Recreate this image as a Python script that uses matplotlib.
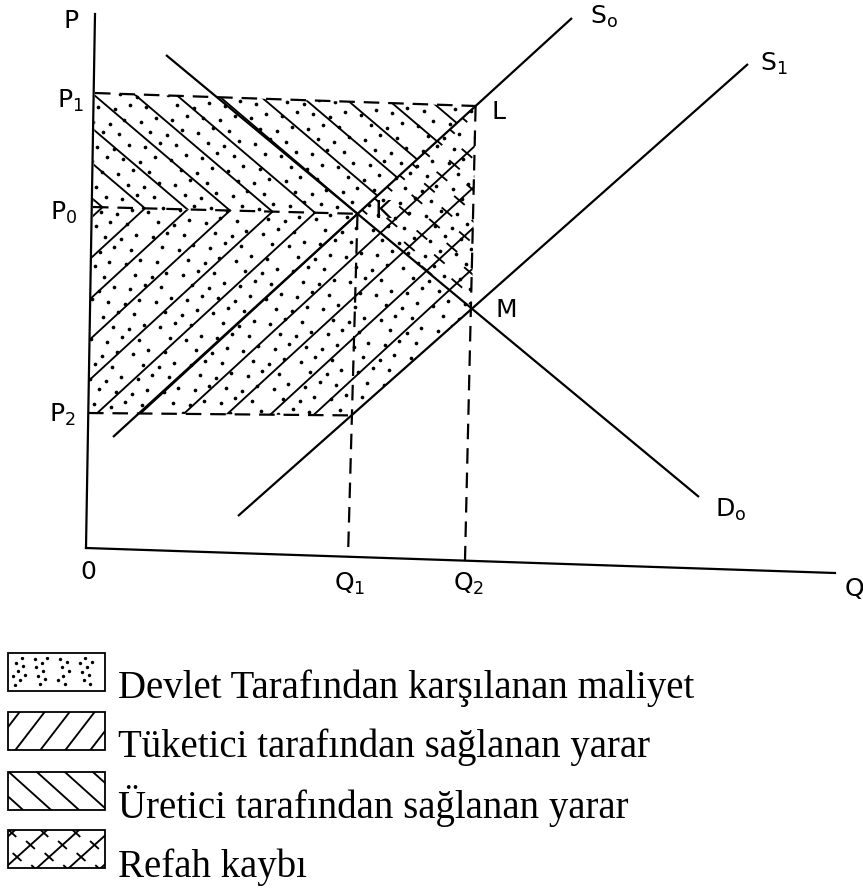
import numpy as np
import matplotlib.pyplot as plt
from matplotlib.patches import Polygon, Rectangle

W, H = 863, 890

# page layout of the diagram (pixel units, y grows downward)
origin = (86, 548)
p_axis_top = (95, 14)
q_axis_end = (835, 573)

# supply and demand curves, given by their drawn end points
s0_ends = [(113, 437), (572, 18)]
s1_ends = [(238, 516), (748, 64)]
d0_ends = [(166, 55), (699, 497)]

# where the price lines leave the P axis
p1_start = (95, 93)
p0_start = (93, 207)
p2_start = (88, 413)
p1_level = 106

# feet of the quantity lines on the Q axis
q1_foot = (348, 557)
q2_foot = (465, 560)

axis_labels = ["P", "0", "Q"]
curve_labels = ["S_o", "S_1", "D_o"]
legend_labels = [
    "Devlet Tarafından karşılanan maliyet",
    "Tüketici tarafından sağlanan yarar",
    "Üretici tarafından sağlanan yarar",
    "Refah kaybı",
]

LW = 1.6
HATCH_LW = 1.35
DASH = (0, (7, 4))


def line_y(ends, x):
    (x0, y0), (x1, y1) = ends
    return y0 + (y1 - y0) * (x - x0) / (x1 - x0)


def line_x(ends, y):
    (x0, y0), (x1, y1) = ends
    return x0 + (x1 - x0) * (y - y0) / (y1 - y0)


def intersect(a, b):
    (ax0, ay0), (ax1, ay1) = a
    (bx0, by0), (bx1, by1) = b
    ma = (ay1 - ay0) / (ax1 - ax0)
    mb = (by1 - by0) / (bx1 - bx0)
    x = (by0 - ay0 + ma * ax0 - mb * bx0) / (ma - mb)
    return (x, ay0 + ma * (x - ax0))


point_k = intersect(s0_ends, d0_ends)
point_m = intersect(s1_ends, d0_ends)
point_l = (line_x(s0_ends, p1_level), p1_level)
point_s1_q1 = (point_k[0] - 6, line_y(s1_ends, point_k[0] - 6))


def clip_poly(ax, pts):
    return Polygon(pts, closed=True, transform=ax.transData)


def hatch_family(ax, anchors, slope, clip, lw=HATCH_LW, reach=400):
    for xa, ya in anchors:
        xs = np.array([xa - reach, xa + reach])
        ys = ya + slope * (xs - xa)
        ln, = ax.plot(xs, ys, color="black", lw=lw, solid_capstyle="butt")
        ln.set_clip_path(clip)


def tick_marks(ax, anchors, slope, tick_slope, clip, step=17, size=6):
    d = np.array([1.0, slope]) / np.hypot(1.0, slope)
    t = np.array([1.0, tick_slope]) / np.hypot(1.0, tick_slope)
    for xa, ya in anchors:
        for s in np.arange(-300, 300, step):
            cx, cy = xa + d[0] * s, ya + d[1] * s
            ln, = ax.plot([cx - t[0] * size, cx + t[0] * size],
                          [cy - t[1] * size, cy + t[1] * size],
                          color="black", lw=HATCH_LW)
            ln.set_clip_path(clip)


def stipple(ax, pts, per_dot, size=7):
    # even but irregular dot fill (R2 low-discrepancy sequence)
    pts = np.asarray(pts, dtype=float)
    x0, y0 = pts.min(axis=0)
    x1, y1 = pts.max(axis=0)
    n = int((x1 - x0) * (y1 - y0) / per_dot)
    g = 1.32471795724
    idx = np.arange(1, n + 1)
    u = (0.5 + idx / g) % 1.0
    v = (0.5 + idx / g ** 2) % 1.0
    sc = ax.scatter(x0 + u * (x1 - x0), y0 + v * (y1 - y0), s=size,
                    color="black", linewidths=0)
    sc.set_clip_path(clip_poly(ax, pts))


fig = plt.figure(figsize=(W / 100, H / 100), dpi=100)
ax = fig.add_axes([0, 0, 1, 1])
ax.set_xlim(0, W)
ax.set_ylim(H, 0)
ax.axis("off")

# shaded areas
stipple_pts = [p1_start, point_l, point_m, point_s1_q1, p2_start]
producer_pts = [p1_start, point_l, point_k, p0_start]
consumer_pts = [p0_start, point_k, point_l, point_m, point_s1_q1, p2_start]
loss_pts = [point_k, point_l, point_m]

stipple(ax, stipple_pts, 230)

back_slope = 0.85
fwd_slope = -0.92
spacing = 42.5
p0_ends = [p0_start, point_k]
anchor_x = point_k[0] - spacing * np.arange(-6, 9)
anchors = [(x, line_y(p0_ends, x)) for x in anchor_x]

hatch_family(ax, anchors, back_slope, clip_poly(ax, producer_pts))
hatch_family(ax, anchors, fwd_slope, clip_poly(ax, consumer_pts))
tick_marks(ax, anchors, fwd_slope, back_slope, clip_poly(ax, loss_pts))

# axes of the diagram
ax.plot([p_axis_top[0], origin[0]], [p_axis_top[1], origin[1]], color="black", lw=LW)
ax.plot([origin[0], q_axis_end[0]], [origin[1], q_axis_end[1]], color="black", lw=LW)

# curves
for ends in (s0_ends, s1_ends, d0_ends):
    ax.plot(*zip(*ends), color="black", lw=LW, solid_capstyle="butt")

# dashed guide lines
for a, b in ((p1_start, point_l), (p0_start, point_k), (p2_start, point_s1_q1),
             (point_k, q1_foot), (point_l, q2_foot)):
    ax.plot([a[0], b[0]], [a[1], b[1]], color="black", lw=LW, linestyle=DASH)

# labels
lab = dict(fontsize=18, family="DejaVu Sans", ha="center", va="center")
ax.text(71, 21, axis_labels[0], **lab)
ax.text(88, 572, axis_labels[1], **lab)
ax.text(854, 589, axis_labels[2], **lab)
ax.text(70, 101, r"$\mathregular{P_1}$", **lab)
ax.text(64, 213, r"$\mathregular{P_0}$", **lab)
ax.text(62, 415, r"$\mathregular{P_2}$", **lab)
ax.text(350, 584, r"$\mathregular{Q_1}$", **lab)
ax.text(469, 584, r"$\mathregular{Q_2}$", **lab)
ax.text(604, 17, r"$\mathregular{%s}$" % curve_labels[0], **lab)
ax.text(774, 64, r"$\mathregular{%s}$" % curve_labels[1], **lab)
ax.text(731, 510, r"$\mathregular{%s}$" % curve_labels[2], **lab)
ax.text(498, 112, "L", **lab)
ax.text(383, 211, "K", **lab)
ax.text(506, 310, "M", **lab)

# legend boxes
box_x, box_w, box_h = 8, 97, 38
box_tops = [653, 712, 772, 830]
baselines = [698, 757, 818, 877]
for i, (top, text) in enumerate(zip(box_tops, legend_labels)):
    corners = [(box_x, top), (box_x + box_w, top),
               (box_x + box_w, top + box_h), (box_x, top + box_h)]
    ax.add_patch(Rectangle((box_x, top), box_w, box_h, fill=False,
                           edgecolor="black", lw=1.3))
    clip = clip_poly(ax, corners)
    mid_y = top + box_h / 2
    if i == 0:
        stipple(ax, [(box_x + 4, top + 4), (box_x + box_w - 4, top + 4),
                     (box_x + box_w - 4, top + box_h - 4),
                     (box_x + 4, top + box_h - 4)], 85, size=6)
    elif i == 1:
        box_anchors = [(box_x + 22 + 25 * k, mid_y) for k in range(-1, 5)]
        hatch_family(ax, box_anchors, -1.3, clip, reach=40)
    elif i == 2:
        box_anchors = [(box_x + 22 + 28 * k, mid_y) for k in range(-1, 5)]
        hatch_family(ax, box_anchors, 0.9, clip, reach=40)
    else:
        box_anchors = [(box_x + 18 + 32 * k, mid_y) for k in range(-1, 4)]
        hatch_family(ax, box_anchors, -0.9, clip, reach=40)
        tick_marks(ax, box_anchors, -0.9, 0.9, clip, step=18, size=5)
    ax.text(118, baselines[i], text, fontsize=28, family="Liberation Serif",
            ha="left", va="baseline")

fig.savefig("out.png", dpi=100)
